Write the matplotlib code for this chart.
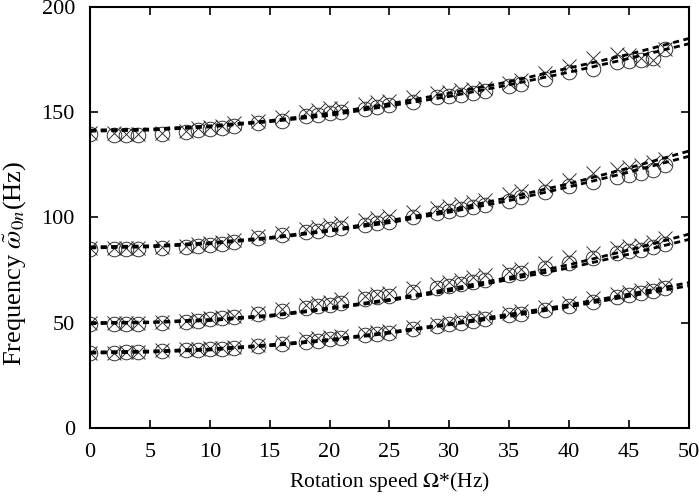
import matplotlib
matplotlib.use("Agg")
import matplotlib.pyplot as plt

plt.rcParams['font.family'] = ['Liberation Serif', 'DejaVu Serif']
plt.rcParams['mathtext.fontset'] = 'stix'

# Fitted-curve sample points (two dashed curves per mode)
x_line = [0, 5, 10, 15, 20, 25, 30, 35, 40, 45, 50]
lines_a = [
    [36, 36.5, 37.5, 39.5, 42, 45.5, 49.5, 54, 58.5, 63.5, 69],
    [50, 50.3, 51.5, 53.5, 57, 61, 66, 71.5, 77.5, 84.5, 92],
    [86, 86.5, 88, 90.5, 94, 98.5, 103.5, 109.5, 116, 123.5, 131.5],
    [141.5, 142, 143.5, 146, 149.5, 154, 159, 164.5, 171, 177.5, 185],
]
lines_b = [
    [35.5, 36, 37, 39, 41.5, 45, 49, 53, 57.5, 62.5, 67.5],
    [49.5, 50, 51, 53, 56.5, 60.5, 65, 70.5, 76, 82.5, 89.5],
    [85.5, 86, 87.5, 90, 93.5, 97.5, 102.5, 108, 114.5, 121.5, 129],
    [141, 141.5, 143, 145.5, 148.5, 153, 157.5, 163, 169, 175.5, 182.5],
]

# Measured points
x_pts = [0, 2, 3, 4, 6, 8, 9, 10, 11, 12, 14, 16, 18, 19, 20, 21, 23, 24, 25,
         27, 29, 30, 31, 32, 33, 35, 36, 38, 40, 42, 44, 45, 46, 47, 48]
circles = [
    [35.5, 35.5, 36, 36, 36.5, 37, 37, 37.5, 37.5, 38, 39, 40, 41, 41.5, 42, 42.5, 44, 44.5, 45,
     47, 48.5, 49.5, 50, 51, 51.5, 53.5, 54, 56, 58, 60, 62, 63, 64, 65, 66.5],
    [49.5, 49.5, 49.5, 49.5, 50, 50.5, 51, 51.5, 52, 52.5, 54, 55.5, 57, 58, 58.5, 59.5, 61, 62, 62.5,
     64.5, 66.5, 67.5, 68.5, 69.5, 70.5, 72.5, 73.5, 76, 78.5, 80.5, 83, 84, 84.5, 86, 87.5],
    [85, 85, 85, 85, 85.5, 86, 86.5, 87, 87.5, 88.5, 90, 91.5, 93, 93.5, 94.5, 95, 96.5, 97.5, 98,
     100, 102, 103, 104, 105, 106, 108, 109.5, 112, 115, 117, 119, 120, 121, 122.5, 125],
    [139.5, 139, 139, 139, 139.5, 140.5, 141.5, 142, 142.5, 143.5, 145, 146, 148, 148.5, 149.5, 150, 151.5, 152.5, 153.5,
     155, 157, 157.5, 158, 159, 160, 162.5, 163.5, 166, 169, 170.5, 174, 174.5, 175, 176, 180],
]
crosses = [
    [35.8, 35.8, 36.2, 36.2, 36.8, 37.3, 37.5, 38, 38, 38.5, 39.5, 40.7, 42, 42.5, 43, 43.5, 45, 45.5, 46,
     48, 49.5, 50.5, 51.3, 52, 52.8, 54.8, 55.5, 57.5, 59.5, 61.5, 63.5, 64.5, 65.5, 66.5, 68],
    [49.8, 49.8, 49.8, 49.8, 50.3, 51, 51.5, 52, 52.5, 53.2, 54.8, 56.5, 58.2, 59.2, 60, 61, 62.5, 63.5, 64.3,
     66.3, 68.5, 69.5, 70.5, 71.5, 72.5, 74.5, 75.5, 78.5, 81, 83, 85.5, 86.5, 87, 88.5, 90],
    [85.5, 85.3, 85.3, 85.3, 85.8, 86.5, 87.2, 87.8, 88.5, 89.5, 91, 92.8, 94.5, 95.5, 96.5, 97.2, 99, 99.8, 100.5,
     102.5, 104.5, 105.5, 106.5, 107.5, 108.5, 111, 112.5, 115, 118, 121, 123, 124, 125, 126.5, 128],
    [140, 140, 139.5, 139.5, 140, 141, 142.5, 143, 143.5, 145, 146, 147.5, 150, 151, 152, 152, 154, 155, 155.5,
     157, 159, 159.5, 160.5, 161, 161.5, 164, 165.5, 168.5, 172, 176, 177.5, 177, 176, 175, 180],
]

fig = plt.figure(figsize=(6.99, 5.01), dpi=100)
ax = fig.add_axes([0.129, 0.146, 0.856, 0.840])

for k in range(4):
    ax.plot(x_pts, circles[k], linestyle='none', marker='o', markersize=10.5,
            markerfacecolor='none', markeredgecolor='#333333', markeredgewidth=0.7)
    ax.plot(x_pts, crosses[k], linestyle='none', marker='x', markersize=10.5,
            markeredgecolor='#333333', markeredgewidth=0.7)
    ax.plot(x_line, lines_a[k], color='black', linewidth=2.0, linestyle=(0, (2.2, 1.6)))
    ax.plot(x_line, lines_b[k], color='black', linewidth=2.0, linestyle=(0, (2.2, 1.6)))

ax.set_xlim(0, 50)
ax.set_ylim(0, 200)
ax.set_xticks(range(0, 51, 5))
ax.set_yticks(range(0, 201, 50))
ax.tick_params(direction='in', top=True, right=True, length=6, width=1.2, labelsize=16)
ax.tick_params(axis='x', pad=11)
ax.tick_params(axis='y', pad=11)
for s in ax.spines.values():
    s.set_linewidth(1.5)

ax.set_xlabel(r'Rotation speed $\mathit{\Omega}$*(Hz)', fontsize=15.5, labelpad=6)
ax.set_ylabel(r'Frequency $\tilde{\omega}_{0n}$(Hz)', fontsize=19)
ax.yaxis.set_label_coords(-0.103, 0.39)

fig.savefig('out.png', dpi=100)
